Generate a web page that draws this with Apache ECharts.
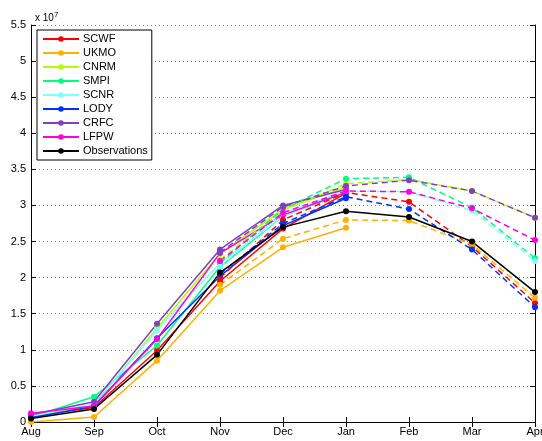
<!DOCTYPE html>
<html>
<head>
<meta charset="utf-8">
<script src="https://cdn.jsdelivr.net/npm/echarts@6/dist/echarts.min.js"></script>
<style>
  html, body { margin: 0; padding: 0; background: #fff; }
  #chart { width: 542px; height: 441px; }
</style>
</head>
<body>
<div id="chart"></div>
<script>
// months on the x axis
const months = ["Aug", "Sep", "Oct", "Nov", "Dec", "Jan", "Feb", "Mar", "Apr"];
const yTicks = [0, 0.5, 1, 1.5, 2, 2.5, 3, 3.5, 4, 4.5, 5, 5.5];

const models = ["SCWF", "UKMO", "CNRM", "SMPI", "SCNR", "LODY", "CRFC", "LFPW"];
const colors = ["#ff0000", "#ffb000", "#b0ff00", "#00ff80", "#80ffff", "#0030ff", "#8040c0", "#ff00e0"];

// solid runs: Aug .. Jan (units of 1e7)
const solidSCWF = [0.08, 0.20, 0.99, 1.95, 2.68, 3.17];
const solidUKMO = [0.00, 0.07, 0.85, 1.82, 2.42, 2.69];
const solidCNRM = [0.07, 0.24, 1.30, 2.33, 2.95, 3.25];
const solidSMPI = [0.07, 0.35, 1.06, 2.15, 2.85, 3.20];
const solidSCNR = [0.08, 0.25, 1.27, 2.20, 2.85, 3.18];
const solidLODY = [0.06, 0.22, 1.16, 2.02, 2.72, 3.10];
const solidCRFC = [0.10, 0.28, 1.36, 2.39, 3.00, 3.22];
const solidLFPW = [0.12, 0.22, 1.15, 2.34, 2.87, 3.18];

// dashed runs: Nov .. Apr
const dashSCWF = [2.00, 2.80, 3.18, 3.05, 2.43, 1.65];
const dashUKMO = [1.90, 2.54, 2.80, 2.79, 2.46, 1.72];
const dashCNRM = [2.25, 2.93, 3.30, 3.36, 3.20, 2.83];
const dashSMPI = [2.20, 2.95, 3.37, 3.39, 2.97, 2.27];
const dashSCNR = [2.15, 2.90, 3.20, 3.19, 2.93, 2.23];
const dashLODY = [2.05, 2.75, 3.12, 2.95, 2.39, 1.59];
const dashCRFC = [2.35, 2.98, 3.27, 3.35, 3.20, 2.83];
const dashLFPW = [2.23, 2.90, 3.20, 3.19, 2.96, 2.52];

const observations = [0.05, 0.18, 0.93, 2.07, 2.70, 2.92, 2.84, 2.50, 1.80];

const solids = [solidSCWF, solidUKMO, solidCNRM, solidSMPI, solidSCNR, solidLODY, solidCRFC, solidLFPW];
const dashes = [dashSCWF, dashUKMO, dashCNRM, dashSMPI, dashSCNR, dashLODY, dashCRFC, dashLFPW];

const chart = echarts.init(document.getElementById("chart"), null, { renderer: "canvas" });

const series = [];
models.forEach((name, i) => {
  series.push({
    name: name,
    type: "line",
    data: solids[i].concat([null, null, null]),
    symbol: "circle",
    symbolSize: 6,
    color: colors[i],
    lineStyle: { width: 1.5, color: colors[i] },
    itemStyle: { color: colors[i] },
    animation: false
  });
});
models.forEach((name, i) => {
  series.push({
    name: name + " (Nov)",
    type: "line",
    data: [null, null, null].concat(dashes[i]),
    symbol: "circle",
    symbolSize: 6,
    color: colors[i],
    lineStyle: { width: 1.5, type: [6, 4], color: colors[i] },
    itemStyle: { color: colors[i] },
    animation: false
  });
});
series.push({
  name: "Observations",
  type: "line",
  data: observations,
  symbol: "circle",
  symbolSize: 6,
  color: "#000",
  lineStyle: { width: 1.5, color: "#000" },
  itemStyle: { color: "#000" },
  animation: false
});

const fontFamily = "Liberation Sans, Arial, sans-serif";

chart.setOption({
  animation: false,
  title: {
    text: "{a|x 10}{b|7}",
    left: 30,
    top: 6,
    textStyle: {
      fontWeight: "normal",
      rich: {
        a: { fontSize: 10, fontFamily: fontFamily, fontWeight: "normal", color: "#000" },
        b: { fontSize: 8, fontFamily: fontFamily, fontWeight: "normal", color: "#000", verticalAlign: "top", padding: [0, 0, 6, 0] }
      }
    }
  },
  legend: {
    data: models.concat(["Observations"]),
    orient: "vertical",
    left: 37,
    top: 30,
    padding: [3, 4, 3, 5],
    itemWidth: 36,
    itemHeight: 7,
    itemGap: 2,
    backgroundColor: "#fff",
    borderColor: "#000",
    borderWidth: 1,
    borderRadius: 0,
    textStyle: { fontSize: 11, fontFamily: fontFamily, color: "#000", padding: [0, 0, 0, -1], lineHeight: 12 }
  },
  grid: { left: 31, right: 7, top: 25, bottom: 19, outerBoundsMode: "none" },
  xAxis: [
    {
      type: "category",
      data: months,
      boundaryGap: false,
      axisLine: { lineStyle: { color: "#000", width: 1 } },
      axisTick: { inside: true, length: 5, lineStyle: { color: "#000" } },
      axisLabel: { fontSize: 11, fontFamily: fontFamily, color: "#000", margin: 4 },
      splitLine: { show: false }
    },
    {
      type: "category",
      data: months,
      boundaryGap: false,
      position: "top",
      axisLine: { lineStyle: { color: "#000", width: 1 } },
      axisTick: { inside: true, length: 5, lineStyle: { color: "#000" } },
      axisLabel: { show: false },
      splitLine: { show: false }
    }
  ],
  yAxis: [
    {
      type: "value",
      min: 0,
      max: 5.5,
      interval: 0.5,
      axisLine: { show: true, lineStyle: { color: "#000", width: 1 } },
      axisTick: { show: true, inside: true, length: 5, lineStyle: { color: "#000" } },
      axisLabel: {
        fontSize: 11, fontFamily: fontFamily, color: "#000", margin: 5,
        formatter: v => String(yTicks[Math.round(v / 0.5)])
      },
      splitLine: { show: true, lineStyle: { color: "#888", type: [1, 3], width: 1 } }
    },
    {
      type: "value",
      min: 0,
      max: 5.5,
      interval: 0.5,
      position: "right",
      axisLine: { show: true, lineStyle: { color: "#000", width: 1 } },
      axisTick: { show: true, inside: true, length: 5, lineStyle: { color: "#000" } },
      axisLabel: { show: false },
      splitLine: { show: false }
    }
  ],
  series: series
});
</script>
</body>
</html>
